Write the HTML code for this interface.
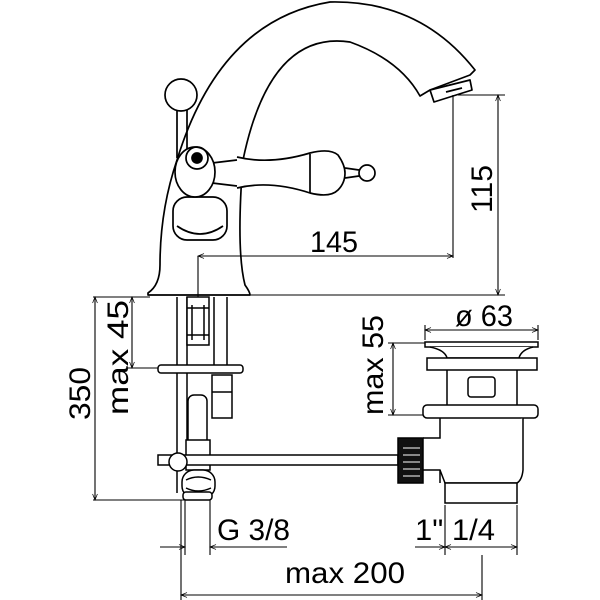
<!DOCTYPE html>
<html><head><meta charset="utf-8"><style>
html,body{margin:0;padding:0;background:#fff}
svg{display:block}
text{font-family:"Liberation Sans Narrow","Liberation Sans",sans-serif;fill:#000}
</style></head><body>
<svg width="600" height="600" viewBox="0 0 600 600" xmlns="http://www.w3.org/2000/svg">
<defs>
<marker id="a" viewBox="0 0 10 10" refX="10" refY="5" markerWidth="8" markerHeight="6" orient="auto-start-reverse" markerUnits="userSpaceOnUse"><path d="M0,1 L10,5 L0,9" fill="none" stroke="#000" stroke-width="1.2"/></marker>
</defs>
<g fill="none" stroke="#000" stroke-width="1.7" stroke-linejoin="round">
<path d="M148,293 Q160,285 160,265 Q160,210 177,160 Q220,20 330,2 Q420,0 475,70 L470,75 L430,90 L420,96 Q400,60 350,42 Q270,30 243,160 Q236,250 245,285 Q250,292 250,295 L148,295 Z" fill="#fff"/>
<path d="M430,90 L470,80 L472,90 L434,102 Z" fill="#fff"/>
<path d="M446,92 L462,88"/>
<line x1="177" y1="110" x2="177" y2="158"/><line x1="187" y1="110" x2="187" y2="150"/>
<circle cx="181" cy="95" r="16" fill="#fff"/>
<rect x="173" y="197" width="54" height="43" rx="14" fill="#fff"/>
<path d="M177,226 Q200,242 223,226"/>
<path d="M237,157 Q270,165 310,153 Q330,148 338,155 Q345,165 345,173 Q345,183 338,190 Q330,198 310,193 Q270,180 237,188" fill="#fff"/>
<line x1="310" y1="154" x2="310" y2="193"/>
<circle cx="367" cy="173" r="8" fill="#fff"/>
<path d="M345,168 L359,170 M345,178 L359,176"/>
<path d="M212,163 L237,160 M212,183 L237,186"/>
<ellipse cx="195" cy="172" rx="20" ry="25" fill="#fff"/>
<circle cx="197" cy="158" r="11"/>
<circle cx="197" cy="158" r="5" fill="#000"/>
</g>
<g fill="none" stroke="#000" stroke-width="1.1">
<line x1="198" y1="256" x2="453" y2="256" marker-start="url(#a)" marker-end="url(#a)"/>
<line x1="198" y1="256" x2="198" y2="300"/>
<line x1="453" y1="95" x2="453" y2="258"/>
<line x1="458" y1="95" x2="505" y2="95"/>
<line x1="250" y1="295" x2="505" y2="295"/>
<line x1="93" y1="297" x2="150" y2="297"/>
<line x1="498" y1="95" x2="498" y2="295" marker-start="url(#a)" marker-end="url(#a)"/>
<line x1="95" y1="297" x2="95" y2="500" marker-start="url(#a)" marker-end="url(#a)"/>
<line x1="93" y1="500" x2="185" y2="500"/>
<line x1="132" y1="297" x2="132" y2="368" marker-start="url(#a)" marker-end="url(#a)"/>
<line x1="128" y1="368" x2="160" y2="368"/>
<line x1="393" y1="343" x2="393" y2="415" marker-start="url(#a)" marker-end="url(#a)"/>
<line x1="388" y1="343" x2="425" y2="343"/>
<line x1="388" y1="415" x2="425" y2="415"/>
<line x1="425" y1="330" x2="538" y2="330" marker-start="url(#a)" marker-end="url(#a)"/>
<line x1="425" y1="325" x2="425" y2="340"/>
<line x1="538" y1="325" x2="538" y2="340"/>
<line x1="160" y1="547" x2="185" y2="547" marker-end="url(#a)"/>
<line x1="210" y1="547" x2="287" y2="547" marker-start="url(#a)"/>
<line x1="185" y1="500" x2="185" y2="555"/>
<line x1="210" y1="500" x2="210" y2="555"/>
<line x1="415" y1="547" x2="445" y2="547" marker-end="url(#a)"/>
<line x1="445" y1="547" x2="517" y2="547" marker-start="url(#a)" marker-end="url(#a)"/>
<line x1="445" y1="505" x2="445" y2="555"/>
<line x1="517" y1="505" x2="517" y2="555"/>
<line x1="181" y1="595" x2="482" y2="595" marker-start="url(#a)" marker-end="url(#a)"/>
<line x1="181" y1="500" x2="181" y2="600"/>
<line x1="482" y1="555" x2="482" y2="600"/>
</g>
<g fill="#fff" stroke="#000" stroke-width="1.5">
<line x1="177" y1="297" x2="177" y2="493"/>
<line x1="187" y1="297" x2="187" y2="470"/>
<rect x="187" y="297" width="22" height="48"/>
<line x1="192" y1="305" x2="192" y2="340"/><line x1="204" y1="305" x2="204" y2="340"/>
<line x1="187" y1="308" x2="209" y2="308"/><line x1="187" y1="335" x2="209" y2="335"/>
<line x1="214" y1="297" x2="214" y2="365"/><line x1="227" y1="297" x2="227" y2="365"/>
<rect x="158" y="365" width="85" height="8" rx="3"/>
<rect x="212" y="375" width="20" height="43"/>
<line x1="212" y1="392" x2="232" y2="392"/>
<rect x="188" y="395" width="19" height="55" rx="6"/>
<rect x="186" y="440" width="24" height="30"/>
<rect x="158" y="455" width="240" height="10"/>
<circle cx="178" cy="462" r="9"/>
<rect x="182" y="470" width="33" height="28" rx="12"/>
<path d="M186,480 Q198,474 211,480 M186,488 Q198,494 211,488"/>
<rect x="183" y="492" width="29" height="8" rx="3"/>
<rect x="425" y="342" width="113" height="5"/>
<path d="M430,347 Q445,350 447,358 L519,358 Q521,350 533,347"/>
<rect x="427" y="358" width="110" height="12"/>
<path d="M447,370 L447,405 M517,370 L517,405"/>
<rect x="468" y="377" width="27" height="20" rx="3"/>
<rect x="423" y="405" width="115" height="13" rx="4"/>
<path d="M440,418 L440,438 L423,438 M523,418 L523,470 Q522,480 517,483 L445,483 L440,470 L423,470"/>
<line x1="440" y1="470" x2="440" y2="483"/>
<rect x="445" y="483" width="72" height="20"/>
<rect x="398" y="438" width="25" height="45" fill="#111"/>
<g stroke="#fff" stroke-width="1"><line x1="403" y1="448" x2="420" y2="448"/><line x1="403" y1="455" x2="420" y2="455"/><line x1="403" y1="462" x2="420" y2="462"/><line x1="403" y1="469" x2="420" y2="469"/><line x1="403" y1="476" x2="420" y2="476"/></g>
</g>
<text x="310" y="252" font-size="30" textLength="48" lengthAdjust="spacingAndGlyphs">145</text>
<text transform="translate(492,213) rotate(-90)" font-size="30" textLength="48" lengthAdjust="spacingAndGlyphs">115</text>
<text transform="translate(90,420) rotate(-90)" font-size="30" textLength="53" lengthAdjust="spacingAndGlyphs">350</text>
<text transform="translate(128,415) rotate(-90)" font-size="30" textLength="115" lengthAdjust="spacingAndGlyphs">max 45</text>
<text transform="translate(383,415) rotate(-90)" font-size="30" textLength="100" lengthAdjust="spacingAndGlyphs">max 55</text>
<text x="455" y="326" font-size="30" textLength="58" lengthAdjust="spacingAndGlyphs">ø 63</text>
<text x="217" y="540" font-size="30" textLength="73" lengthAdjust="spacingAndGlyphs">G 3/8</text>
<text x="415" y="540" font-size="30" textLength="80" lengthAdjust="spacingAndGlyphs">1" 1/4</text>
<text x="285" y="583" font-size="30" textLength="120" lengthAdjust="spacingAndGlyphs">max 200</text>
</svg>
</body></html>
